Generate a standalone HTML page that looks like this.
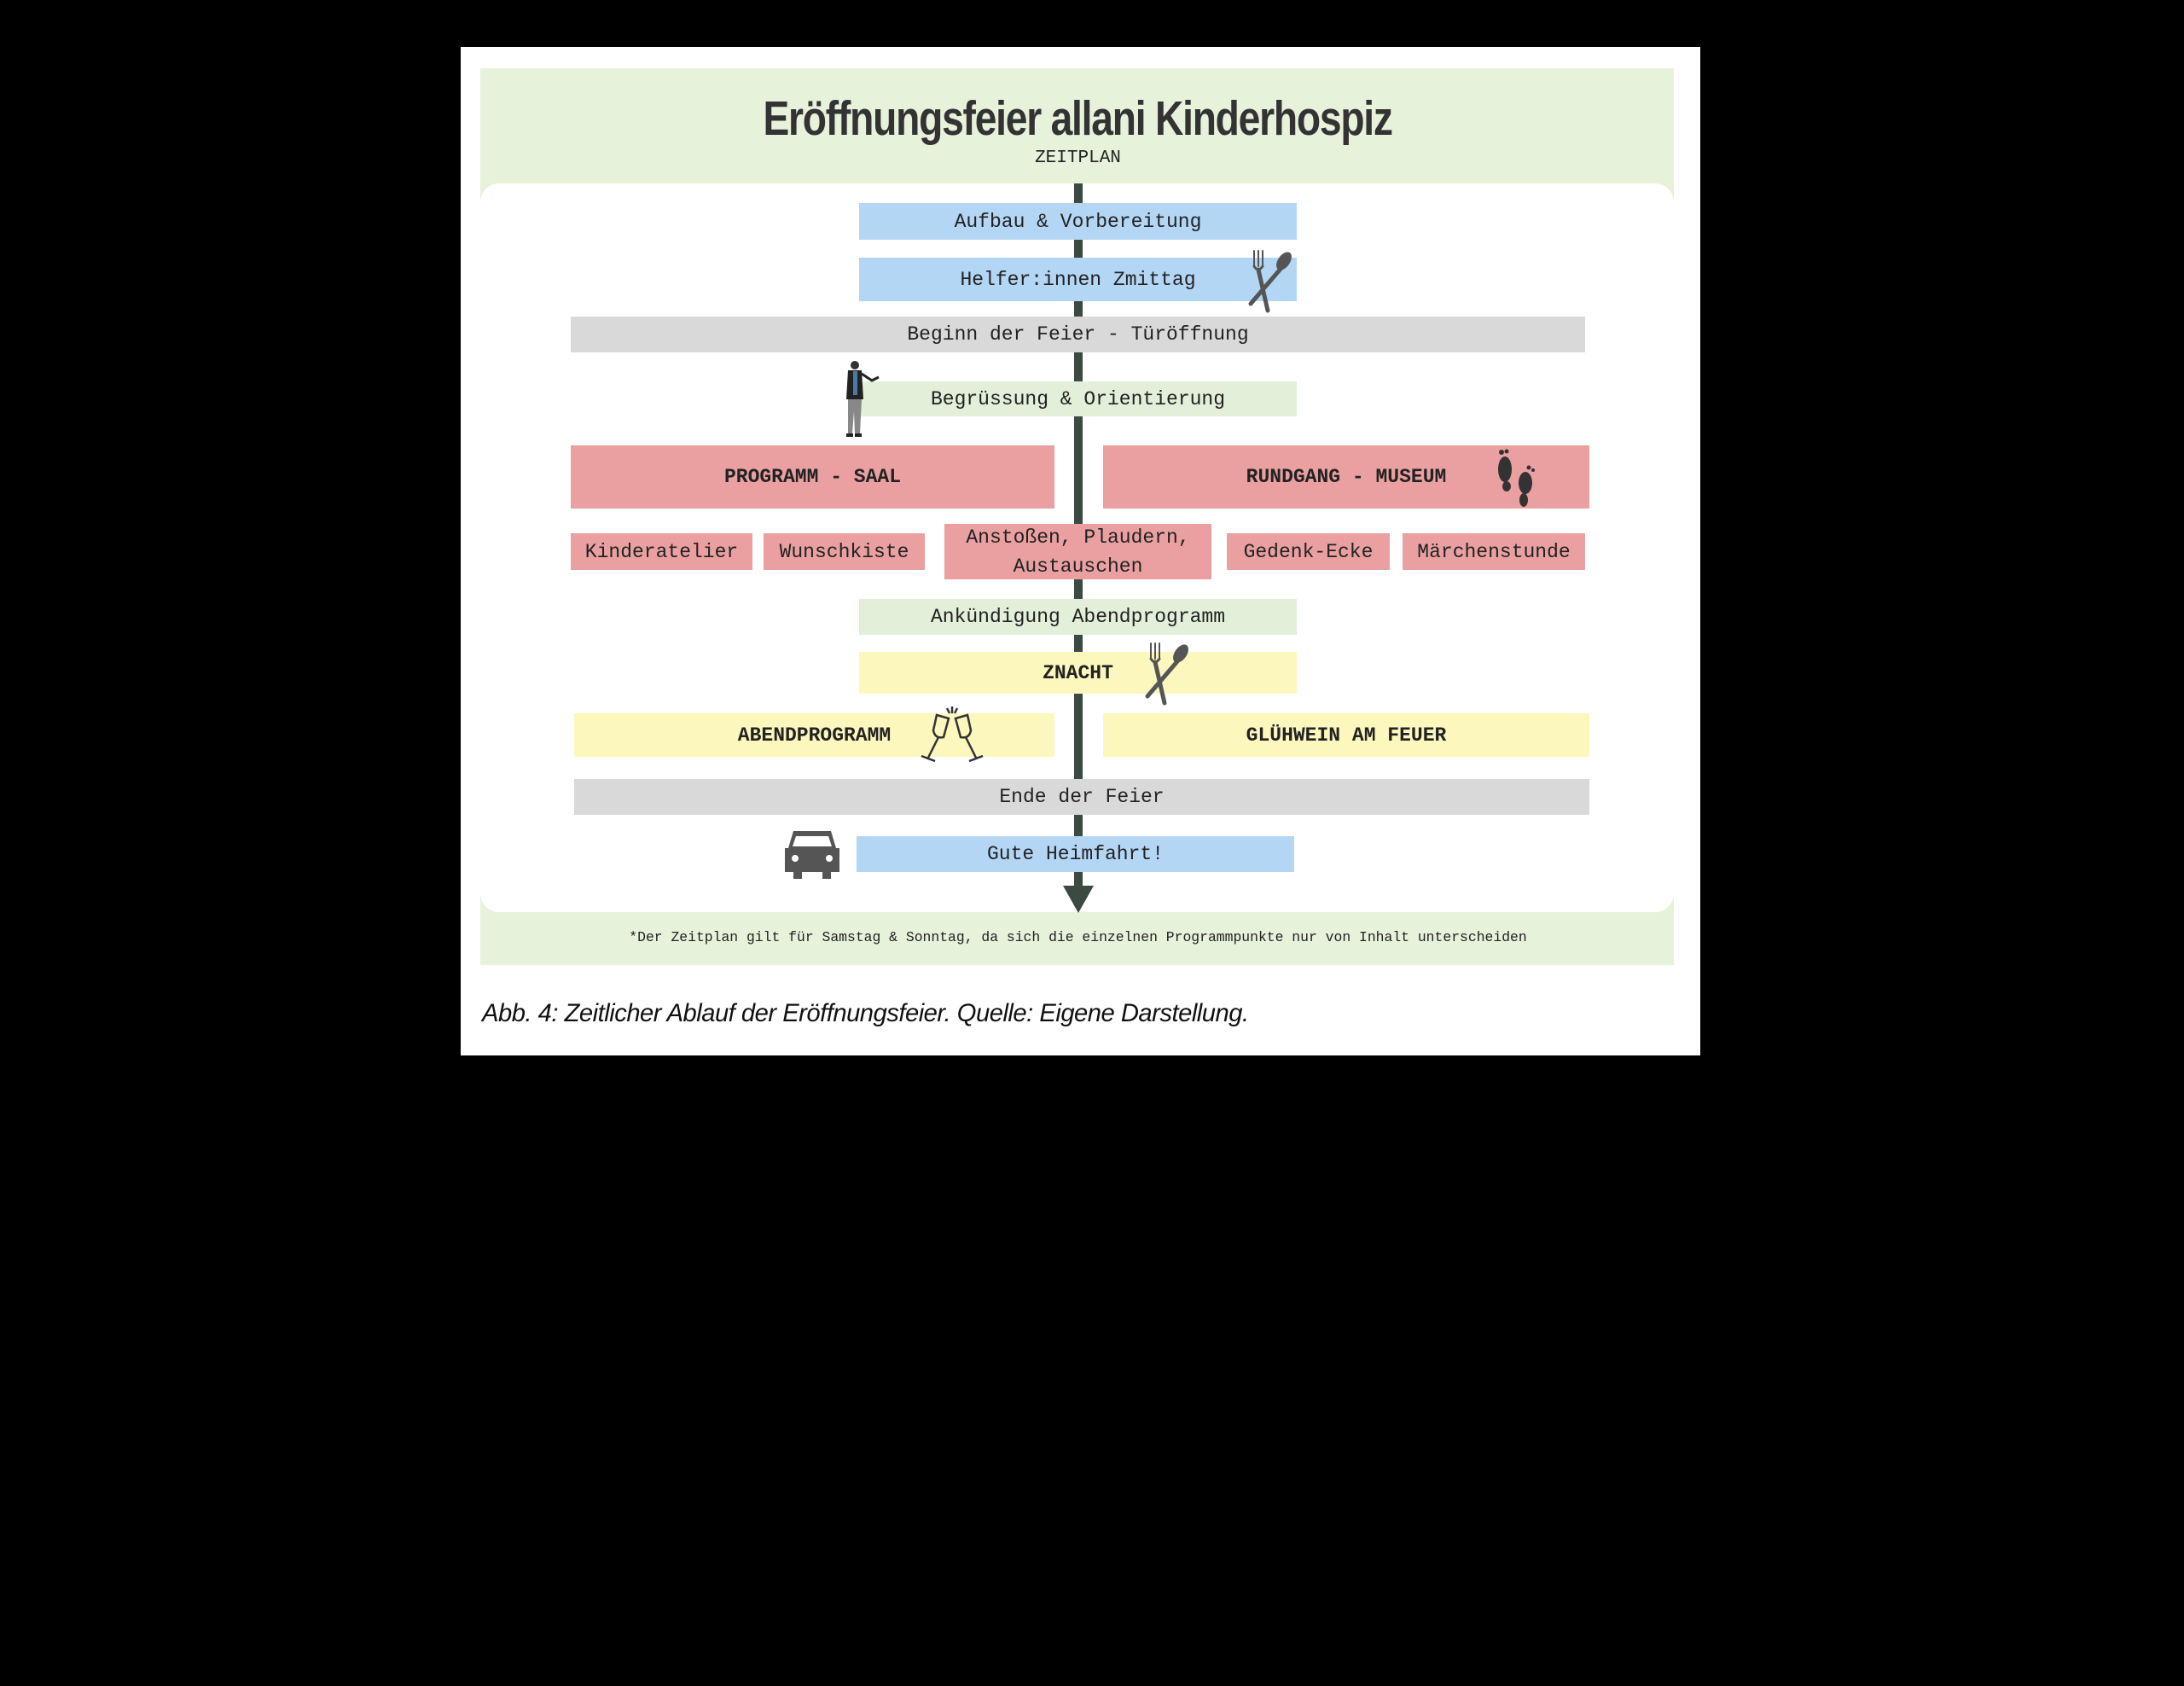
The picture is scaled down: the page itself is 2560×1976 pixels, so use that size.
<!DOCTYPE html>
<html><head><meta charset="utf-8"><style>
body{margin:0;width:2560px;height:1976px;background:#000;position:relative;overflow:hidden;font-family:"Liberation Mono",monospace;}
.a{position:absolute;}
.b{position:absolute;display:flex;align-items:center;justify-content:center;text-align:center;font-family:"Liberation Mono",monospace;font-size:23px;color:#222;line-height:34px;}
.blue{background:#b3d6f5}.gray{background:#d9d9d9}.green{background:#e2efd9}.pink{background:#eaa0a0}.yel{background:#fcf7bd}
.bold{font-weight:bold}
</style></head><body>
<div class="a" style="left:540px;top:55px;width:1453px;height:1182px;background:#fff"></div>
<div class="a" style="left:563px;top:80px;width:1399px;height:1051px;background:#e6f2da"></div>
<div class="a" style="left:563px;top:215px;width:1399px;height:854px;background:#fff;border-radius:22px"></div>
<div class="a" style="left:564px;top:106px;width:1399px;text-align:center;font-family:'Liberation Sans Narrow','Liberation Sans',sans-serif;font-weight:bold;font-size:57px;color:#333;letter-spacing:-1.5px"><span style="display:inline-block;transform:scaleX(0.81)">Eröffnungsfeier allani Kinderhospiz</span></div>
<div class="a" style="left:564px;top:174px;width:1399px;text-align:center;font-size:21px;color:#222">ZEITPLAN</div>
<div class="a" style="left:1259px;top:215px;width:10px;height:832px;background:#3d4a42"></div>
<svg class="a" style="left:1246px;top:1038px" width="36" height="34"><polygon points="0,0 36,0 18,32" fill="#3d4a42"/></svg>

<div class="b blue" style="left:1007px;top:238px;width:513px;height:43px">Aufbau &amp; Vorbereitung</div>
<div class="b blue" style="left:1007px;top:302px;width:513px;height:51px">Helfer:innen Zmittag</div>
<div class="b gray" style="left:669px;top:371px;width:1189px;height:42px">Beginn der Feier - Türöffnung</div>
<div class="b green" style="left:1007px;top:447px;width:513px;height:41px">Begrüssung &amp; Orientierung</div>
<div class="b pink bold" style="left:669px;top:522px;width:567px;height:74px">PROGRAMM - SAAL</div>
<div class="b pink bold" style="left:1293px;top:522px;width:570px;height:74px">RUNDGANG - MUSEUM</div>
<div class="b pink" style="left:669px;top:625px;width:213px;height:43px">Kinderatelier</div>
<div class="b pink" style="left:895px;top:625px;width:189px;height:43px">Wunschkiste</div>
<div class="b pink" style="left:1107px;top:614px;width:313px;height:65px">Anstoßen, Plaudern,<br>Austauschen</div>
<div class="b pink" style="left:1438px;top:625px;width:191px;height:43px">Gedenk-Ecke</div>
<div class="b pink" style="left:1644px;top:625px;width:214px;height:43px">Märchenstunde</div>
<div class="b green" style="left:1007px;top:702px;width:513px;height:42px">Ankündigung Abendprogramm</div>
<div class="b yel bold" style="left:1007px;top:764px;width:513px;height:49px">ZNACHT</div>
<div class="b yel bold" style="left:673px;top:836px;width:563px;height:51px">ABENDPROGRAMM</div>
<div class="b yel bold" style="left:1293px;top:836px;width:570px;height:51px">GLÜHWEIN AM FEUER</div>
<div class="b gray" style="left:673px;top:913px;width:1190px;height:42px">Ende der Feier</div>
<div class="b blue" style="left:1004px;top:980px;width:513px;height:42px">Gute Heimfahrt!</div>

<svg class="a" style="left:1456px;top:290px" width="60" height="78" viewBox="0 0 60 78"><g stroke="#555" stroke-linecap="round" fill="none"><line x1="14" y1="4" x2="14" y2="22" stroke-width="2"/><line x1="19" y1="4" x2="19" y2="22" stroke-width="2"/><line x1="24" y1="4" x2="24" y2="22" stroke-width="2"/><path d="M14 22 Q19 30 24 22" stroke-width="3"/><line x1="19" y1="26" x2="30" y2="74" stroke-width="5"/><line x1="46" y1="24" x2="10" y2="66" stroke-width="5"/></g><ellipse cx="49" cy="16" rx="7" ry="12" transform="rotate(35 49 16)" fill="#555"/></svg>
<svg class="a" style="left:1335px;top:750px" width="60" height="78" viewBox="0 0 60 78"><g stroke="#555" stroke-linecap="round" fill="none"><line x1="14" y1="4" x2="14" y2="22" stroke-width="2"/><line x1="19" y1="4" x2="19" y2="22" stroke-width="2"/><line x1="24" y1="4" x2="24" y2="22" stroke-width="2"/><path d="M14 22 Q19 30 24 22" stroke-width="3"/><line x1="19" y1="26" x2="30" y2="74" stroke-width="5"/><line x1="46" y1="24" x2="10" y2="66" stroke-width="5"/></g><ellipse cx="49" cy="16" rx="7" ry="12" transform="rotate(35 49 16)" fill="#555"/></svg>
<svg class="a" style="left:986px;top:422px" width="50" height="92" viewBox="0 0 50 92"><circle cx="16" cy="6" r="5" fill="#333"/><path d="M8 12 L24 12 L26 46 L6 46 Z" fill="#222"/><rect x="14" y="13" width="5" height="28" fill="#4a7aa8"/><path d="M24 16 L36 24 L44 20" stroke="#222" stroke-width="3" fill="none"/><path d="M8 46 L24 46 L22 86 L16 86 L15 60 L13 86 L8 86 Z" fill="#888"/><rect x="6" y="86" width="8" height="4" fill="#222"/><rect x="16" y="86" width="8" height="4" fill="#222"/></svg>
<svg class="a" style="left:1750px;top:524px" width="56" height="72" viewBox="0 0 56 72"><ellipse cx="14" cy="26" rx="8" ry="15" fill="#333"/><ellipse cx="16" cy="46" rx="5" ry="6" fill="#333"/><circle cx="10" cy="6" r="3" fill="#333"/><circle cx="16" cy="5" r="2.5" fill="#333"/><ellipse cx="38" cy="42" rx="8" ry="13" fill="#333"/><ellipse cx="36" cy="62" rx="5" ry="8" fill="#333"/><circle cx="42" cy="24" r="2.5" fill="#333"/><circle cx="47" cy="27" r="2" fill="#333"/></svg>
<svg class="a" style="left:1076px;top:826px" width="80" height="72" viewBox="0 0 80 72"><g stroke="#333" stroke-width="2.5" fill="none"><path d="M22 12 L36 16 L30 38 Q20 40 18 30 Z"/><line x1="24" y1="38" x2="12" y2="62"/><line x1="4" y1="60" x2="20" y2="66"/><path d="M58 12 L44 16 L50 38 Q60 40 62 30 Z"/><line x1="56" y1="38" x2="68" y2="62"/><line x1="60" y1="66" x2="76" y2="60"/><line x1="40" y1="2" x2="40" y2="10"/><line x1="34" y1="4" x2="37" y2="10"/><line x1="46" y1="4" x2="43" y2="10"/></g></svg>
<svg class="a" style="left:918px;top:970px" width="68" height="62" viewBox="0 0 68 62"><path d="M12 4 H56 L62 24 H66 V52 H56 V60 H46 V52 H22 V60 H12 V52 H2 V24 H6 Z" fill="#555"/><path d="M15 10 H53 L57 22 H11 Z" fill="#fff"/><circle cx="14" cy="36" r="4" fill="#fff"/><circle cx="54" cy="36" r="4" fill="#fff"/></svg>

<div class="a" style="left:564px;top:1089px;width:1399px;text-align:center;font-size:16.4px;color:#222">*Der Zeitplan gilt für Samstag &amp; Sonntag, da sich die einzelnen Programmpunkte nur von Inhalt unterscheiden</div>
<div class="a" style="left:565px;top:1172px;font-family:'Liberation Sans',sans-serif;font-style:italic;font-size:29.2px;color:#111;letter-spacing:-0.5px">Abb. 4: Zeitlicher Ablauf der Eröffnungsfeier. Quelle: Eigene Darstellung.</div>
</body></html>
